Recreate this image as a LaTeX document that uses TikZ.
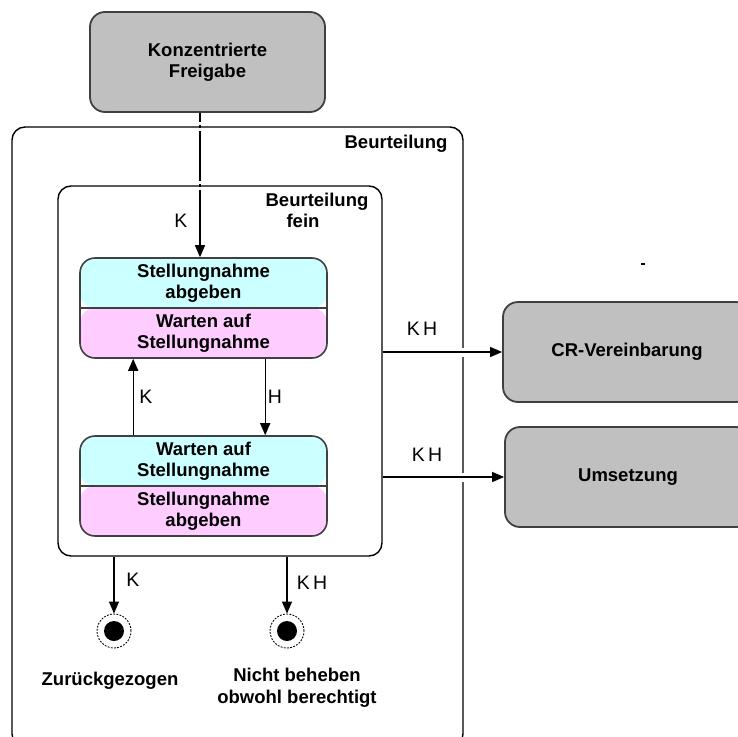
\documentclass[tikz,border=0pt]{standalone}
\usepackage{fontspec}
\setmainfont{Liberation Sans}
\usetikzlibrary{arrows.meta,calc}

\definecolor{boxgray}{HTML}{C0C0C0}
\definecolor{boxedge}{HTML}{404040}
\definecolor{topcyan}{HTML}{CCFFFF}
\definecolor{botpink}{HTML}{FFCCFF}

\tikzset{
  bold/.style={font=\bfseries\fontsize{18.5}{21}\selectfont, align=center, inner sep=0pt},
  lab/.style={font=\fontsize{19.5}{21}\selectfont, inner sep=0pt},
  graybox/.style={draw=boxedge, fill=boxgray, line width=1.8pt, rounded corners=15pt,
    bold, minimum width=#1, minimum height=100pt},
  container/.style={draw=black, line width=1.4pt, rounded corners=13pt, inner sep=0pt},
  statebox/.style={draw=boxedge, line width=1.6pt, rounded corners=15pt,
    minimum width=247pt, minimum height=100pt, inner sep=0pt,
    path picture={
      \fill[topcyan] (path picture bounding box.north west) rectangle (path picture bounding box.east);
      \fill[botpink] (path picture bounding box.west) rectangle (path picture bounding box.south east);
      \draw[boxedge, line width=1.2pt] (path picture bounding box.west) -- (path picture bounding box.east);
    }},
  arr/.style={line width=1.4pt, -{Triangle[length=12pt,width=10pt]}},
  gap/.style={draw=white, line width=3.4pt},
  finalring/.style={circle, draw=black, line width=0.9pt, dash pattern=on 1.8pt off 1.4pt,
    minimum size=34pt, inner sep=0pt},
  finaldot/.style={circle, fill=black, minimum size=20pt, inner sep=0pt},
}

\begin{document}
\begin{tikzpicture}[x=1pt, y=-1pt]
\useasboundingbox (0,0) rectangle (738,736);
\clip (0,0) rectangle (738,736);
\fill[white] (0,0) rectangle (738,736);

% containers
\node[container, minimum width=451pt, minimum height=620pt] (outer) at (237.5,437) {};
\node[bold] (outerlabel) at (396,144) {Beurteilung};
\node[container, minimum width=324pt, minimum height=370pt] (inner) at (220,371) {};
\node[bold] (innerlabel1) at (317,202) {Beurteilung};
\node[bold] (innerlabel2) at (303,221) {fein};

% source and target states
\node[graybox=235pt] (kf) at (207.5,62) {Konzentrierte\\Freigabe};
\node[graybox=248pt] (cr) at (627,352) {CR-Vereinbarung};
\node[graybox=246pt] (um) at (628,477) {Umsetzung};

% split states
\node[statebox] (s1) at (203.5,308) {};
\node[bold] (s1a) at (203.5,283) {Stellungnahme\\abgeben};
\node[bold] (s1b) at (203.5,333) {Warten auf\\Stellungnahme};
\node[statebox] (s2) at (203.5,486) {};
\node[bold] (s2a) at (203.5,461) {Warten auf\\Stellungnahme};
\node[bold] (s2b) at (203.5,511) {Stellungnahme\\abgeben};

% final states
\node[finalring] (f1) at (114,631) {};
\node[finaldot] at (f1) {};
\node[finalring] (f2) at (287,631) {};
\node[finaldot] at (f2) {};
\node[bold] (f1label) at (110,681) {Zurückgezogen};
\node[bold] (f2label) at (297,688) {Nicht beheben\\[1pt]obwohl berechtigt};

% transitions
\coordinate (kfout) at ($(kf.south)+(-7.5,0)$);
\draw[arr] (kfout) -- (kfout |- s1.north);
\node[lab] (lk1) at (181,221) {K};

\draw[arr] ($(s2.north west)+(54,0)$) -- ($(s1.south west)+(54,0)$);
\node[lab] (lk2) at (146,397) {K};
\draw[arr] ($(s1.south west)+(186,0)$) -- ($(s2.north west)+(186,0)$);
\node[lab] (lh) at (275,397) {H};

\draw[arr] (inner.east |- cr.west) -- (cr.west);
\node[lab] (lkh1) at (422,329) {K\,H};
\draw[arr] (inner.east |- um.west) -- (um.west);
\node[lab] (lkh2) at (427,455) {K\,H};

\draw[arr] (f1 |- inner.south) -- (f1.north);
\node[lab] (lk3) at (133,580) {K};
\draw[arr] (f2 |- inner.south) -- (f2.north);
\node[lab] (lkh3) at (312,583) {K\,H};

% line hops where connectors and borders cross
\coordinate (c1) at (kfout |- outer.north);
\coordinate (c2) at (kfout |- inner.north);
\coordinate (c3) at (outer.east |- cr.west);
\coordinate (c4) at (outer.east |- um.west);
\foreach \c in {c1,c2}
  \draw[gap] ($(\c)+(0,-4.5)$) -- ($(\c)+(0,-1.4)$) ($(\c)+(0,1.4)$) -- ($(\c)+(0,4.5)$);
\foreach \c in {c3,c4}
  \draw[gap] ($(\c)+(0,-4.5)$) -- ($(\c)+(0,-1.4)$) ($(\c)+(0,1.4)$) -- ($(\c)+(0,4.5)$);

% stray mark
\fill (641,263) rectangle (645,265);
\end{tikzpicture}
\end{document}
